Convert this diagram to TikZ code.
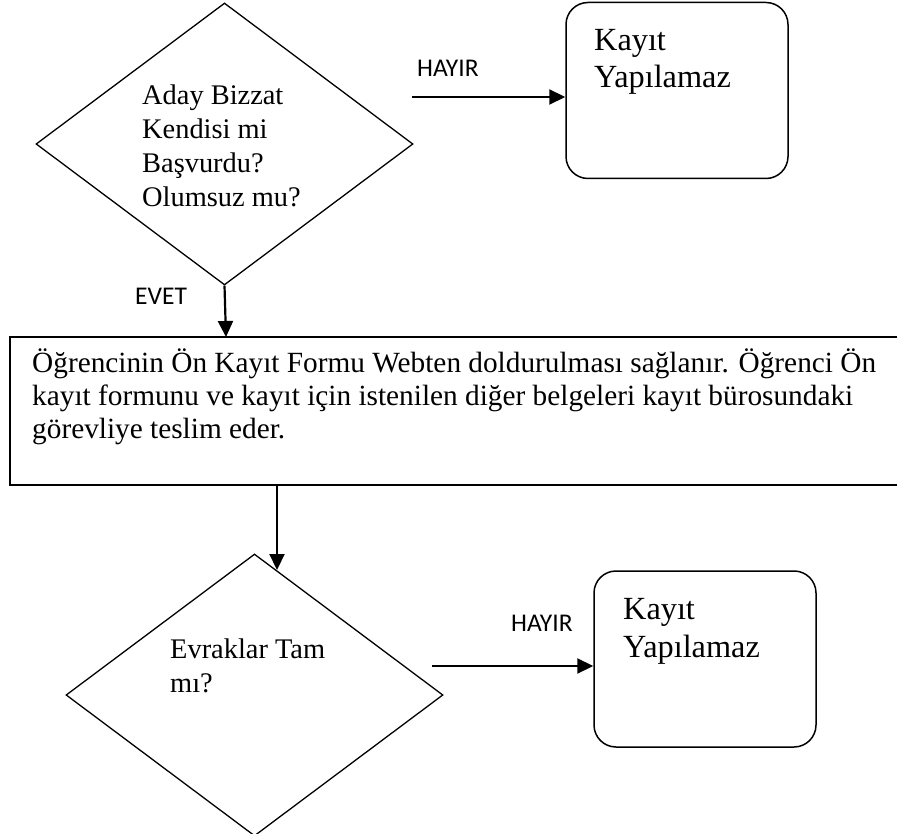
\documentclass[tikz,border=0pt]{standalone}
\usepackage{fontspec}
\setmainfont{Liberation Serif}
\newfontfamily\lblfont{Carlito}
\usetikzlibrary{shapes.geometric,arrows.meta}
\begin{document}
\begin{tikzpicture}[x=1pt,y=-1pt,
  decision/.style={draw,diamond,inner sep=0pt,line width=1.3pt,minimum width=377pt,minimum height=282pt},
  endbox/.style={draw,rectangle,rounded corners=22pt,line width=1.5pt,inner sep=0pt,minimum width=222pt,minimum height=176pt},
  procbox/.style={draw,rectangle,line width=1.5pt,inner sep=0pt,minimum width=900pt,minimum height=148pt},
  arr/.style={line width=2.2pt,-{Triangle[length=16pt,width=15pt]}},
  lbl/.style={inner sep=0pt,font=\lblfont\fontsize{25.5pt}{30pt}\selectfont,anchor=base west},
  dtext/.style={inner sep=0pt,anchor=base west,align=left,font=\fontsize{28.4pt}{34pt}\selectfont},
  btext/.style={inner sep=0pt,anchor=base west,align=left,font=\fontsize{32.3pt}{37.5pt}\selectfont},
  ptext/.style={inner sep=0pt,anchor=base west,align=left,font=\fontsize{29.3pt}{33pt}\selectfont}]
\useasboundingbox (0,0) rectangle (897,834);

% shapes
\node[decision] (d1) at (224.5,144) {};
\node[endbox] (b1) at (677,90.5) {};
\node[procbox] (form) at (460,411) {};
\node[decision] (d2) at (254.5,695) {};
\node[endbox] (b2) at (705,659) {};

% texts (anchor is the baseline of the last line)
\node[dtext] (t1) at (142,207) {Aday Bizzat\\Kendisi mi\\Başvurdu?\\Olumsuz mu?};
\node[btext] (t2) at (594,88) {Kayıt\\Yapılamaz};
\node[ptext] (t3) at (32,438) {Öğrencinin Ön Kayıt Formu Webten doldurulması sağlanır. Öğrenci Ön\\kayıt formunu ve kayıt için istenilen diğer belgeleri kayıt bürosundaki\\görevliye teslim eder.};
\node[dtext] (t4) at (170,692) {Evraklar Tam\\mı?};
\node[btext] (t5) at (623,657) {Kayıt\\Yapılamaz};

% labels
\node[lbl] (l1) at (417,77) {HAYIR};
\node[lbl] (l2) at (135,305) {EVET};
\node[lbl] (l3) at (511,631) {HAYIR};

% connector end points
\coordinate (h1s) at (412,97);
\coordinate (e1) at (226,337);
\coordinate (s2) at (277,485);
\coordinate (e2) at (277,570);
\coordinate (h2s) at (432,666);

% connectors
\draw[arr] (h1s) -- (b1.west |- h1s);
\draw[arr] (d1.south) -- (e1);
\draw[arr] (s2) -- (e2);
\draw[arr] (h2s) -- (b2.west |- h2s);
\end{tikzpicture}
\end{document}
